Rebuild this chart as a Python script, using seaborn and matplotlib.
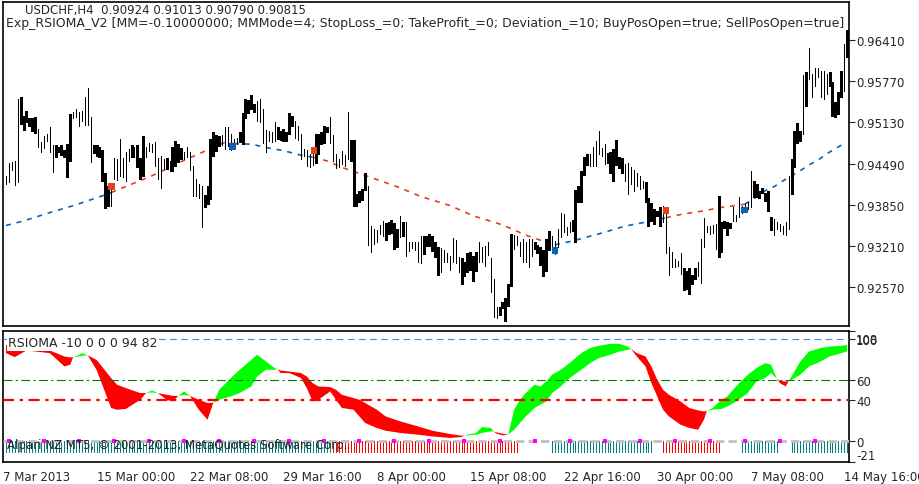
import numpy as np
import pandas as pd
import matplotlib
matplotlib.use("Agg")
import matplotlib.pyplot as plt
import seaborn as sns

sns.set_style("white")
plt.rcParams['font.family'] = ['DejaVu Sans']
plt.rcParams['font.size'] = 8.5

# ============ DATA ============
# USDCHF H4 bars, index 0 = 7 Mar 2013 04:00 (one bar per index)
high = [0.9430, 0.9450, 0.9451, 0.9453, 0.9549, 0.9552, 0.9523, 0.9530, 0.9520, 0.9520,
        0.9521, 0.9502, 0.9482, 0.9492, 0.9495, 0.9506, 0.9478, 0.9478, 0.9475, 0.9478,
        0.9470, 0.9479, 0.9526, 0.9529, 0.9533, 0.9529, 0.9530, 0.9552, 0.9566, 0.9521,
        0.9478, 0.9478, 0.9475, 0.9470, 0.9434, 0.9414, 0.9409, 0.9458, 0.9456, 0.9487,
        0.9458, 0.9467, 0.9471, 0.9478, 0.9475, 0.9478, 0.9458, 0.9492, 0.9475, 0.9481,
        0.9479, 0.9482, 0.9458, 0.9461, 0.9456, 0.9458, 0.9453, 0.9475, 0.9484, 0.9479,
        0.9473, 0.9467, 0.9475, 0.9467, 0.9445, 0.9425, 0.9417, 0.9414, 0.9400, 0.9414,
        0.9487, 0.9498, 0.9493, 0.9492, 0.9493, 0.9506, 0.9506, 0.9495, 0.9487, 0.9489,
        0.9498, 0.9527, 0.9549, 0.9547, 0.9555, 0.9541, 0.9546, 0.9549, 0.9533, 0.9501,
        0.9499, 0.9498, 0.9513, 0.9506, 0.9499, 0.9502, 0.9498, 0.9527, 0.9523, 0.9515,
        0.9507, 0.9495, 0.9471, 0.9470, 0.9464, 0.9471, 0.9495, 0.9495, 0.9498, 0.9507,
        0.9506, 0.9521, 0.9493, 0.9464, 0.9456, 0.9468, 0.9462, 0.9529, 0.9485, 0.9485,
        0.9402, 0.9406, 0.9409, 0.9434, 0.9414, 0.9352, 0.9347, 0.9346, 0.9354, 0.9360,
        0.9357, 0.9358, 0.9361, 0.9357, 0.9347, 0.9368, 0.9358, 0.9358, 0.9327, 0.9327,
        0.9327, 0.9327, 0.9337, 0.9337, 0.9337, 0.9340, 0.9337, 0.9327, 0.9320, 0.9318,
        0.9315, 0.9310, 0.9306, 0.9334, 0.9330, 0.9304, 0.9303, 0.9296, 0.9310, 0.9312,
        0.9306, 0.9312, 0.9327, 0.9320, 0.9321, 0.9327, 0.9303, 0.9270, 0.9227, 0.9227,
        0.9234, 0.9241, 0.9262, 0.9340, 0.9338, 0.9337, 0.9327, 0.9332, 0.9327, 0.9332,
        0.9332, 0.9327, 0.9323, 0.9320, 0.9315, 0.9332, 0.9344, 0.9337, 0.9329, 0.9347,
        0.9372, 0.9371, 0.9351, 0.9358, 0.9361, 0.9408, 0.9414, 0.9437, 0.9459, 0.9464,
        0.9464, 0.9475, 0.9484, 0.9499, 0.9473, 0.9479, 0.9465, 0.9467, 0.9471, 0.9485,
        0.9459, 0.9458, 0.9448, 0.9450, 0.9444, 0.9439, 0.9434, 0.9430, 0.9422, 0.9420,
        0.9396, 0.9388, 0.9378, 0.9375, 0.9382, 0.9383, 0.9374, 0.9320, 0.9312, 0.9301,
        0.9298, 0.9310, 0.9287, 0.9282, 0.9287, 0.9276, 0.9287, 0.9296, 0.9332, 0.9365,
        0.9352, 0.9352, 0.9354, 0.9355, 0.9399, 0.9358, 0.9360, 0.9358, 0.9357, 0.9382,
        0.9369, 0.9397, 0.9383, 0.9386, 0.9389, 0.9437, 0.9422, 0.9417, 0.9406, 0.9411,
        0.9403, 0.9406, 0.9366, 0.9363, 0.9358, 0.9355, 0.9352, 0.9358, 0.9430, 0.9456,
        0.9499, 0.9512, 0.9499, 0.9586, 0.9591, 0.9628, 0.9588, 0.9597, 0.9597, 0.9592,
        0.9592, 0.9588, 0.9591, 0.9575, 0.9544, 0.9560, 0.9592, 0.9634, 0.9656]
low = [0.9417, 0.9420, 0.9439, 0.9416, 0.9420, 0.9510, 0.9501, 0.9513, 0.9507, 0.9499,
       0.9496, 0.9475, 0.9467, 0.9473, 0.9484, 0.9467, 0.9436, 0.9459, 0.9467, 0.9462,
       0.9459, 0.9428, 0.9453, 0.9520, 0.9521, 0.9507, 0.9515, 0.9509, 0.9509, 0.9451,
       0.9465, 0.9461, 0.9459, 0.9422, 0.9380, 0.9383, 0.9383, 0.9425, 0.9423, 0.9430,
       0.9428, 0.9422, 0.9453, 0.9459, 0.9459, 0.9444, 0.9425, 0.9430, 0.9459, 0.9468,
       0.9467, 0.9445, 0.9425, 0.9411, 0.9440, 0.9440, 0.9437, 0.9437, 0.9445, 0.9451,
       0.9456, 0.9456, 0.9459, 0.9439, 0.9399, 0.9399, 0.9396, 0.9351, 0.9382, 0.9386,
       0.9394, 0.9461, 0.9468, 0.9476, 0.9478, 0.9471, 0.9476, 0.9470, 0.9475, 0.9479,
       0.9482, 0.9479, 0.9520, 0.9527, 0.9533, 0.9529, 0.9515, 0.9513, 0.9481, 0.9467,
       0.9484, 0.9482, 0.9484, 0.9487, 0.9485, 0.9484, 0.9484, 0.9495, 0.9507, 0.9489,
       0.9485, 0.9456, 0.9461, 0.9445, 0.9444, 0.9447, 0.9450, 0.9464, 0.9479, 0.9481,
       0.9498, 0.9481, 0.9453, 0.9442, 0.9444, 0.9448, 0.9445, 0.9456, 0.9453, 0.9383,
       0.9383, 0.9389, 0.9392, 0.9408, 0.9323, 0.9312, 0.9324, 0.9327, 0.9340, 0.9337,
       0.9330, 0.9340, 0.9341, 0.9316, 0.9320, 0.9335, 0.9337, 0.9306, 0.9313, 0.9318,
       0.9315, 0.9296, 0.9295, 0.9309, 0.9321, 0.9321, 0.9313, 0.9304, 0.9276, 0.9281,
       0.9296, 0.9296, 0.9284, 0.9296, 0.9295, 0.9281, 0.9262, 0.9275, 0.9281, 0.9284,
       0.9267, 0.9282, 0.9296, 0.9296, 0.9290, 0.9307, 0.9250, 0.9211, 0.9210, 0.9214,
       0.9225, 0.9205, 0.9228, 0.9259, 0.9316, 0.9323, 0.9306, 0.9296, 0.9296, 0.9289,
       0.9306, 0.9316, 0.9310, 0.9292, 0.9275, 0.9282, 0.9315, 0.9320, 0.9309, 0.9320,
       0.9335, 0.9343, 0.9338, 0.9343, 0.9344, 0.9327, 0.9389, 0.9389, 0.9431, 0.9447,
       0.9445, 0.9445, 0.9445, 0.9464, 0.9461, 0.9448, 0.9450, 0.9434, 0.9422, 0.9447,
       0.9442, 0.9434, 0.9422, 0.9402, 0.9417, 0.9406, 0.9414, 0.9409, 0.9411, 0.9389,
       0.9352, 0.9360, 0.9355, 0.9368, 0.9352, 0.9358, 0.9310, 0.9276, 0.9289, 0.9289,
       0.9290, 0.9278, 0.9253, 0.9254, 0.9247, 0.9262, 0.9270, 0.9275, 0.9264, 0.9320,
       0.9343, 0.9340, 0.9341, 0.9316, 0.9304, 0.9312, 0.9349, 0.9338, 0.9349, 0.9360,
       0.9360, 0.9366, 0.9372, 0.9374, 0.9378, 0.9382, 0.9397, 0.9397, 0.9396, 0.9403,
       0.9391, 0.9375, 0.9346, 0.9338, 0.9347, 0.9344, 0.9340, 0.9338, 0.9347, 0.9402,
       0.9444, 0.9481, 0.9484, 0.9495, 0.9538, 0.9580, 0.9552, 0.9569, 0.9583, 0.9552,
       0.9549, 0.9557, 0.9569, 0.9523, 0.9521, 0.9526, 0.9552, 0.9561, 0.9614]
# 1 = filled (thick) candle body, 0 = thin bar
body = ("0000011111" "1000000111" "1110000000" "1111110000" "0001011100"
        "0000010111" "1000000011" "1111000000" "1111110000" "0001111110"
        "0000001111" "1000000011" "1111000000" "1111101000" "0001111110"
        "0000001111" "1100000001" "1111000000" "0111111000" "0000111111"
        "0000001111" "1100000001" "1111100000" "0011111000" "0000111110"
        "0000001111" "1110000001" "1110100000" "001111101")

# moving average (dotted line), sampled at bar indices
ma_bar = [0, 6, 15, 24, 33, 36, 43, 52, 60, 69, 75, 78, 84, 90, 95, 101, 105, 110, 115, 124,
          134, 142, 152, 160, 170, 178, 187, 188, 194, 203, 212, 221, 226, 232, 238, 245, 250,
          253, 257, 260, 263, 266, 269, 272, 275, 278, 281, 284, 287]
ma_val = [0.9353, 0.9360, 0.9373, 0.9385, 0.9399, 0.9404, 0.9417, 0.9434, 0.9452, 0.9470,
          0.9482, 0.9480, 0.9479, 0.9473, 0.9469, 0.9462, 0.9459, 0.9453, 0.9443, 0.9429,
          0.9413, 0.9398, 0.9384, 0.9368, 0.9354, 0.9338, 0.9324, 0.9323, 0.9329, 0.9340,
          0.9352, 0.9360, 0.9365, 0.9371, 0.9375, 0.9381, 0.9384, 0.9386, 0.9397, 0.9407,
          0.9413, 0.9422, 0.9430, 0.9438, 0.9447, 0.9454, 0.9464, 0.9472, 0.9480]
# trend colour changes (bar where it starts)
ma_switch = [0, 36, 78, 105, 188, 226, 253]
ma_side = ['up', 'down', 'up', 'down', 'up', 'down', 'up']

# trade signals
trade_bar = [36, 77.5, 105.5, 188, 226, 253]
trade_price = [0.9414, 0.9475, 0.9469, 0.9314, 0.9376, 0.9377]
trade_side = ['down', 'up', 'down', 'up', 'down', 'up']

# RSIOMA (fast / signal), sampled at bar indices
rsi_bar = [0, 3, 7, 15, 20, 22, 23, 24, 26, 28, 31, 36, 38, 41, 46, 48, 50, 52, 55, 57,
           59, 61, 63, 66, 69, 70, 71, 73, 77, 80, 84, 86, 89, 92, 93, 94, 97, 101, 103, 105,
           107, 111, 113, 115, 119, 121, 123, 127, 130, 135, 141, 146, 152, 156, 157, 158, 161, 163, 166, 167,
           168, 170, 172, 174, 176, 178, 181, 183, 185, 187, 190, 193, 197, 200, 203, 207, 210, 213, 214, 216,
           219, 221, 223, 225, 227, 231, 234, 237, 239, 240, 242, 245, 247, 250, 254, 257, 260, 262, 264, 265,
           267, 268, 269, 272, 275, 279, 282, 286, 288]
rsi_fast = [86.2, 82.3, 88.8, 86.2, 73.1, 74.7, 82.5, 82.9, 86.2, 84, 69.8, 32.2, 30.5, 31.2, 40.3, 47, 49.5, 46.9, 40.3, 38.6,
            44, 48.5, 44, 30.5, 20.6, 28.8, 37.5, 50.1, 61.7, 69.8, 79.6, 84.6, 78, 71.5, 70.5, 66.6, 66.6, 61.7, 51.8, 38.6,
            40.3, 48.5, 40.3, 32.2, 30.5, 23.9, 17.4, 12.5, 9.8, 7.6, 5.9, 4.2, 2.7, 3.6, 5, 5.9, 7.6, 13.5, 12.5, 9,
            6.9, 5.2, 6, 30.5, 40.3, 46.9, 55.1, 53.4, 58.3, 64.9, 69.8, 76.4, 86.2, 91.2, 93.4, 95.4, 95.4, 92.4, 90.5, 82.9,
            73.1, 56.7, 43.6, 30.5, 23.9, 15.7, 12.5, 10.8, 20.6, 29.3, 32.2, 40.3, 43.6, 53.4, 64.9, 71.5, 76.4, 74.7, 61, 56.7,
            53.4, 58.5, 63.2, 78, 87.8, 91.2, 92.7, 93.4, 94.4]
rsi_slow = [94.4, 89.5, 89.5, 88.8, 82.9, 81.9, 82.5, 82.3, 83.6, 84, 79.6, 61.7, 55.1, 51.8, 46.9, 47, 47.5, 46.9, 45.2, 44.2,
            44, 45.2, 44, 40.3, 37.1, 37.1, 37.5, 40.3, 43.6, 46.9, 53.4, 63.2, 69.8, 69.8, 70.5, 69.1, 68.1, 66.6, 63.2, 56.7,
            53.4, 52.8, 50.1, 45.2, 42, 40.3, 37.1, 30.5, 23.9, 19, 14.1, 9.8, 6.6, 4.9, 5, 5.2, 5.9, 7.6, 9.1, 9,
            8.2, 6.9, 6, 10.8, 17.4, 23.9, 32.2, 35.4, 38.6, 46.9, 53.4, 61.7, 69.8, 76.4, 81.3, 84.6, 87.8, 89.5, 90.5, 86.2,
            82.9, 73.1, 60, 50.1, 45.2, 38.6, 32.2, 29.8, 28.8, 29.3, 30.5, 31.2, 33.7, 38.6, 46.9, 58.3, 61.7, 66.6, 61, 59,
            58.3, 58.5, 59.9, 64.9, 73.1, 78, 82.9, 86.2, 87.8]

# histogram under zero: runs of (kind, number of bars)
hist_runs = [('t', 112), ('r', 64), ('', 11), ('t', 35), ('', 3), ('r', 20), ('', 7),
             ('t', 13), ('', 4), ('t', 20)]
hist_depth = -11
mark_bars = [1, 13, 25, 37, 49, 61, 73, 85, 97, 109, 121, 133, 145, 157, 169, 181, 193,
             205, 217, 229, 241, 253, 265, 277]

date_ticks = [-1, 31, 63, 95, 127, 159, 191, 223, 255, 287]
date_labels = ['7 Mar 2013', '15 Mar 00:00', '22 Mar 08:00', '29 Mar 16:00', '8 Apr 00:00',
               '15 Apr 08:00', '22 Apr 16:00', '30 Apr 00:00', '7 May 08:00', '14 May 16:00']
price_ticks = [0.96410, 0.95770, 0.95130, 0.94490, 0.93850, 0.93210, 0.92570]

# ============ FIGURE ============
W, H = 920, 485
fig = plt.figure(figsize=(W / 100, H / 100), dpi=100)

def rect(l, t, r, b):
    return [l / W, 1 - b / H, (r - l) / W, (b - t) / H]

ax1 = fig.add_axes(rect(3, 3, 848.5, 327))
ax2 = fig.add_axes(rect(3, 332, 848.5, 463), sharex=ax1)

bars = pd.DataFrame({'high': high, 'low': low, 'body': [int(c) for c in body]})
bars['x'] = np.arange(len(bars))

RED = '#e4401c'
BLUE = '#0a62b4'

# --- price panel
ax1.vlines(bars['x'], bars['low'], bars['high'], colors='black', lw=0.72, antialiased=False, zorder=3)
thick = bars[bars['body'] == 1]
ax1.vlines(thick['x'], thick['low'], thick['high'], colors='black', lw=1.8, antialiased=False, zorder=3)

ma = pd.DataFrame({'bar': ma_bar, 'val': ma_val})
for i, start in enumerate(ma_switch):
    end = ma_switch[i + 1] if i + 1 < len(ma_switch) else 10**6
    seg = ma[(ma['bar'] >= start) & (ma['bar'] <= end)]
    col = BLUE if ma_side[i] == 'up' else RED
    ax1.plot(seg['bar'], seg['val'], color=col, lw=1.2, ls=(0, (3, 3.5)), zorder=2)

tr = pd.DataFrame({'bar': trade_bar, 'price': trade_price, 'side': trade_side})
sns.scatterplot(data=tr, x='bar', y='price', hue='side', palette={'up': BLUE, 'down': RED},
                marker='s', s=24, linewidth=0, legend=False, ax=ax1, zorder=4)
ax1.set_xlabel('')
ax1.set_ylabel('')

ax1.set_ylim(0.91972, 0.96994)
ax1.yaxis.tick_right()
ax1.set_yticks(price_ticks)
ax1.set_yticklabels([f'{p:.5f}' for p in price_ticks])
ax1.tick_params(axis='y', direction='out', length=4, width=0.8, pad=1.5, labelsize=8.5)
ax1.tick_params(axis='x', bottom=False, labelbottom=False)

ax1.text(0.026, 0.996, 'USDCHF,H4  0.90924 0.91013 0.90790 0.90815', transform=ax1.transAxes,
         ha='left', va='top', fontsize=8.5)
ax1.text(0.003, 0.957, 'Exp_RSIOMA_V2 [MM=-0.10000000; MMMode=4; StopLoss_=0; TakeProfit_=0; '
         'Deviation_=10; BuyPosOpen=true; SellPosOpen=true]', transform=ax1.transAxes,
         ha='left', va='top', fontsize=9.0, clip_on=True)

# --- RSIOMA panel
fast = np.array(rsi_fast)
slow = np.array(rsi_slow)
ax2.fill_between(rsi_bar, fast, slow, where=fast >= slow, interpolate=True,
                 color='#00ff00', lw=0, zorder=2)
ax2.fill_between(rsi_bar, fast, slow, where=fast < slow, interpolate=True,
                 color='#ff0000', lw=0, zorder=2)

ax2.axhline(100, color='#3a8ee6', lw=0.8, ls=(0, (6, 4)), zorder=3)
ax2.axhline(60, color='#008000', lw=0.8, ls=(0, (8, 3, 2, 3)), zorder=3)
ax2.axhline(40, color='#ff0000', lw=1.6, ls=(0, (5, 2.5, 1.5, 2.5)), zorder=3)
ax2.axhline(0, color='#c0c0c0', lw=2.0, ls=(0, (3, 1.5)), zorder=3)

hist_x, hist_c = [], []
pos = 0
for kind, count in hist_runs:
    for k in range(count):
        if kind:
            hist_x.append(pos + k)
            hist_c.append('#008080' if kind == 't' else '#ff0000')
    pos += count
ax2.vlines(hist_x, hist_depth, 0, colors=hist_c, lw=0.6, antialiased=False, zorder=2)
ax2.scatter(mark_bars, [0] * len(mark_bars), marker='s', s=5, color='#ff00ff', lw=0, zorder=4)

ax2.text(0.006, 0.96, 'RSIOMA -10 0 0 0 94 82', transform=ax2.transAxes, ha='left', va='top',
         fontsize=9.0, zorder=5,
         bbox=dict(facecolor='white', edgecolor='none', pad=1.0))
ax2.text(0.005, 0.085, 'Alpari NZ MT5, \u00a9 2001-2013, MetaQuotes Software Corp.',
         transform=ax2.transAxes, ha='left', va='bottom', fontsize=8.5, zorder=5)

ax2.set_ylim(-21, 108)
ax2.yaxis.tick_right()
ax2.set_yticks([108, 100, 60, 40, 0, -21])
ax2.set_yticklabels(['', '100', '60', '40', '0', '-21'])
ax2.tick_params(axis='y', direction='out', length=4, width=0.8, pad=1.5, labelsize=8.5)
ax2.get_yticklabels()[-1].set_va('bottom')
# the panel maximum is printed over the 100 level label, as in the terminal
ax2.text(1.0, 100, '108', transform=ax2.get_yaxis_transform(), ha='left', va='center',
         fontsize=8.5, clip_on=False)

ax2.set_xlim(-1.03, 288.5)
ax2.set_xticks(date_ticks)
ax2.set_xticklabels(date_labels)
ax2.tick_params(axis='x', direction='out', length=4, width=0.8, pad=2, labelsize=8.5)
for lbl in ax2.get_xticklabels():
    lbl.set_ha('left')

for ax in (ax1, ax2):
    ax.set_facecolor('white')
    for sp in ax.spines.values():
        sp.set_visible(True)
        sp.set_color('black')
        sp.set_linewidth(1.2)

fig.canvas.draw()
# place the "108" exactly on top of the "100" label
lab100 = ax2.get_yticklabels()[1]
bb = lab100.get_window_extent()
x0, _ = ax2.transAxes.inverted().transform((bb.x0, bb.y0))
ax2.texts[-1].set_position((x0, 100))

fig.savefig('out.png', dpi=100, facecolor='white')
